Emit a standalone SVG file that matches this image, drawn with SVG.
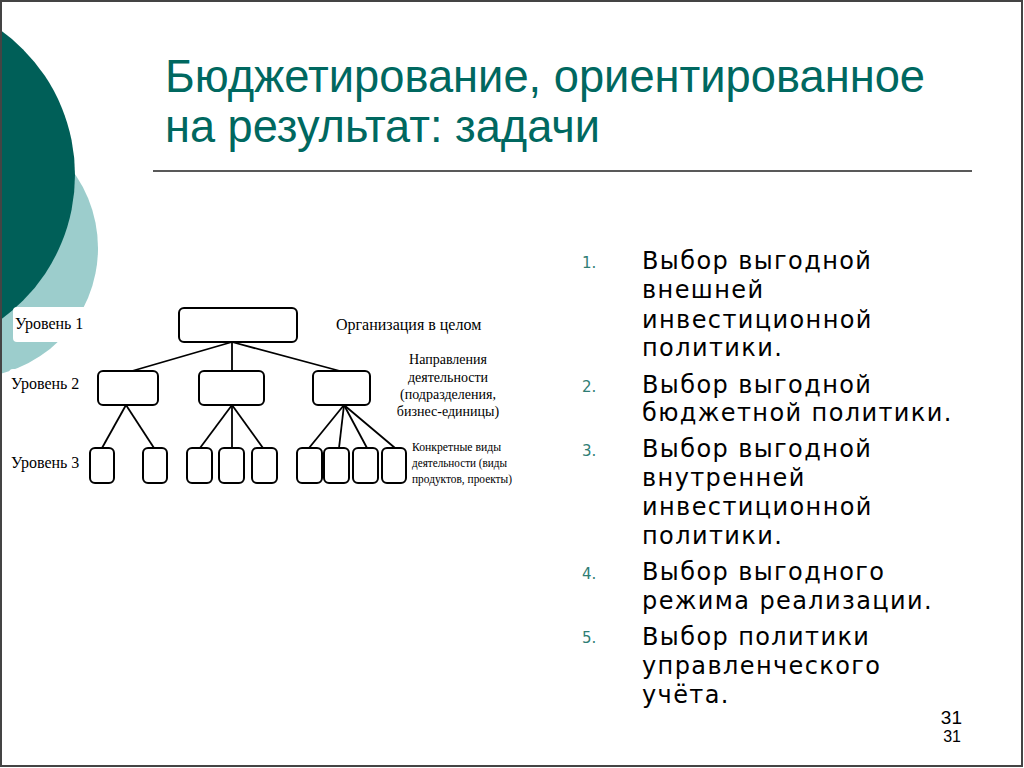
<svg xmlns="http://www.w3.org/2000/svg" width="1024" height="768" viewBox="0 0 1024 768">
<style>
.title{font-family:"Liberation Sans",Arial,sans-serif;font-size:46px;fill:#006860}
.item{font-family:"DejaVu Sans",Verdana,sans-serif;font-size:24px;letter-spacing:1.4px;fill:#000}
.num{font-family:"DejaVu Sans",Verdana,sans-serif;font-size:15px;fill:#2f7d74}
.lbl{font-family:"Liberation Serif","Times New Roman",serif;font-size:16px;fill:#000}
.lbl14{font-family:"Liberation Serif","Times New Roman",serif;font-size:14px;fill:#000}
.lbl12{font-family:"Liberation Serif","Times New Roman",serif;font-size:12.5px;fill:#000}
.box{fill:#fff;stroke:#000;stroke-width:2}
.conn line{stroke:#000;stroke-width:1.8}
.pg{font-family:"Liberation Sans",Arial,sans-serif;fill:#000;text-anchor:end}
</style>
<rect x="0" y="0" width="1024" height="768" fill="#fff"/>
<g id="background">
<circle cx="-32" cy="248" r="130" fill="#9ccdcc"/>
<circle cx="-103" cy="175" r="178" fill="#005f58"/>
<rect x="13" y="307" width="76" height="35" rx="4" fill="#fff"/>
<rect x="9" y="369" width="80" height="31" rx="4" fill="#fff"/>
</g>
<g id="title">
<text class="title" x="165" y="92" textLength="760" lengthAdjust="spacingAndGlyphs">Бюджетирование, ориентированное</text>
<text class="title" x="165" y="142" textLength="435" lengthAdjust="spacingAndGlyphs">на результат: задачи</text>
<line x1="153" y1="171" x2="972" y2="171" stroke="#222" stroke-width="1.5"/>
</g>
<g class="conn" id="connectors">
<line x1="232" y1="342" x2="132" y2="371"/>
<line x1="232" y1="342" x2="232" y2="371"/>
<line x1="232" y1="342" x2="340" y2="371"/>
<line x1="126" y1="405" x2="102" y2="448"/>
<line x1="126" y1="405" x2="154" y2="448"/>
<line x1="232" y1="405" x2="200" y2="448"/>
<line x1="232" y1="405" x2="232" y2="448"/>
<line x1="232" y1="405" x2="263" y2="448"/>
<line x1="344" y1="405" x2="309" y2="448"/>
<line x1="344" y1="405" x2="339" y2="448"/>
<line x1="344" y1="405" x2="367" y2="448"/>
<line x1="344" y1="405" x2="395" y2="448"/>
</g>
<g id="level1"><rect class="box" x="179" y="308" width="118" height="34" rx="5"/></g>
<g id="level2-a"><rect class="box" x="98" y="371" width="60" height="34" rx="5"/></g>
<g id="level2-b"><rect class="box" x="199" y="371" width="65" height="34" rx="5"/></g>
<g id="level2-c"><rect class="box" x="313" y="371" width="57" height="34" rx="5"/></g>
<g id="level3-1"><rect class="box" x="90" y="448" width="24" height="35" rx="5"/></g>
<g id="level3-2"><rect class="box" x="143" y="448" width="24" height="35" rx="5"/></g>
<g id="level3-3"><rect class="box" x="187" y="448" width="25" height="35" rx="5"/></g>
<g id="level3-4"><rect class="box" x="219" y="448" width="25" height="35" rx="5"/></g>
<g id="level3-5"><rect class="box" x="252" y="448" width="25" height="35" rx="5"/></g>
<g id="level3-6"><rect class="box" x="297" y="448" width="25" height="35" rx="5"/></g>
<g id="level3-7"><rect class="box" x="324" y="448" width="25" height="35" rx="5"/></g>
<g id="level3-8"><rect class="box" x="353" y="448" width="25" height="35" rx="5"/></g>
<g id="level3-9"><rect class="box" x="382" y="448" width="24" height="35" rx="5"/></g>
<g id="labels">
<text class="lbl" x="15" y="329">Уровень 1</text>
<text class="lbl" x="11" y="389">Уровень 2</text>
<text class="lbl" x="11" y="468">Уровень 3</text>
<text class="lbl" x="336" y="330">Организация в целом</text>
<text class="lbl14" text-anchor="middle"><tspan x="448" y="364">Направления</tspan><tspan x="448" y="381.5">деятельности</tspan><tspan x="448" y="399">(подразделения,</tspan><tspan x="448" y="416">бизнес-единицы)</tspan></text>
<text class="lbl12" x="412" y="451" textLength="89" lengthAdjust="spacingAndGlyphs">Конкретные виды</text>
<text class="lbl12" x="412" y="467" textLength="95" lengthAdjust="spacingAndGlyphs">деятельности (виды</text>
<text class="lbl12" x="412" y="483" textLength="100" lengthAdjust="spacingAndGlyphs">продуктов, проекты)</text>
</g>
<g id="list">
<text class="num" x="582" y="268">1.</text>
<text class="num" x="582" y="392">2.</text>
<text class="num" x="582" y="456">3.</text>
<text class="num" x="582" y="579">4.</text>
<text class="num" x="582" y="643">5.</text>
<text class="item"><tspan x="642" y="269">Выбор выгодной</tspan><tspan x="642" y="298">внешней</tspan><tspan x="642" y="328">инвестиционной</tspan><tspan x="642" y="356">политики.</tspan></text>
<text class="item"><tspan x="642" y="393">Выбор выгодной</tspan><tspan x="642" y="421">бюджетной политики.</tspan></text>
<text class="item"><tspan x="642" y="457">Выбор выгодной</tspan><tspan x="642" y="486">внутренней</tspan><tspan x="642" y="515">инвестиционной</tspan><tspan x="642" y="544">политики.</tspan></text>
<text class="item"><tspan x="642" y="580">Выбор выгодного</tspan><tspan x="642" y="609">режима реализации.</tspan></text>
<text class="item"><tspan x="642" y="645">Выбор политики</tspan><tspan x="642" y="674">управленческого</tspan><tspan x="642" y="703">учёта.</tspan></text>
</g>
<g id="page-number">
<text class="pg" x="962" y="724" font-size="19">31</text>
<text class="pg" x="961" y="742" font-size="16">31</text>
</g>
<rect x="1" y="1" width="1021" height="765" fill="none" stroke="#444" stroke-width="2"/>
</svg>
